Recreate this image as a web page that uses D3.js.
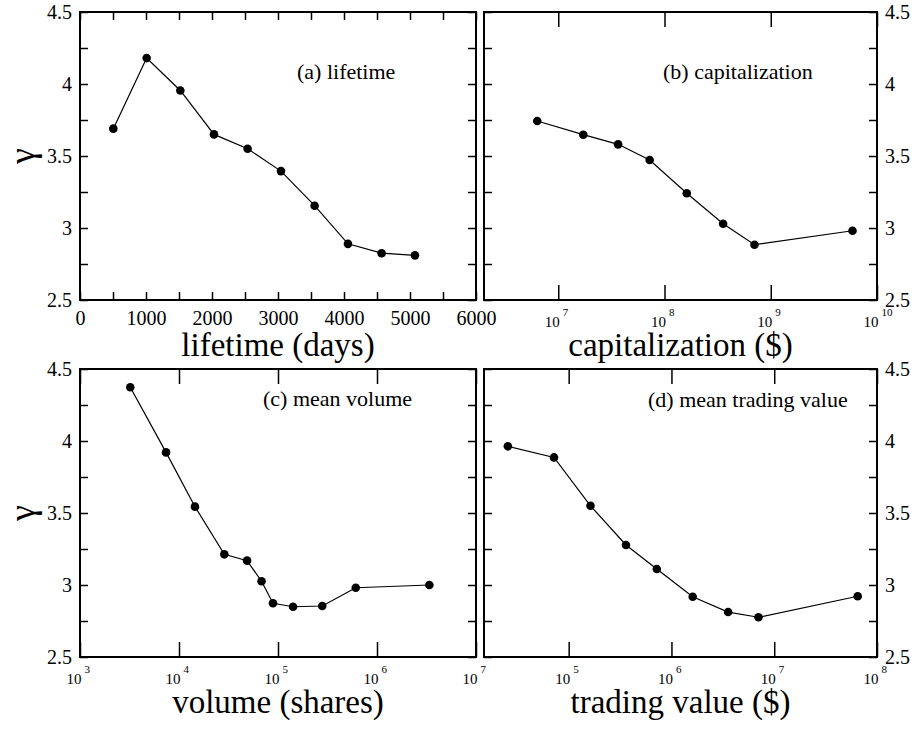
<!DOCTYPE html>
<html>
<head>
<meta charset="utf-8">
<script src="https://cdn.jsdelivr.net/npm/d3@7"></script>
<style>
  html, body { margin: 0; padding: 0; background: #fff; }
  svg { display: block; }
  text { font-family: "Liberation Serif", "Times New Roman", "DejaVu Serif", serif; fill: #000; }
</style>
</head>
<body>
<script>
// ---------- data ----------
const yTickValues = [2.5, 3, 3.5, 4, 4.5];
const yMinorValues = [2.75, 3.25, 3.75, 4.25];

const lifetimeTicks = [0, 1000, 2000, 3000, 4000, 5000, 6000];
const lifetimeMinor = [500, 1500, 2500, 3500, 4500, 5500];
const lifetimeDays = [505, 1010, 1520, 2030, 2540, 3045, 3555, 4060, 4570, 5075];
const lifetimeGamma = [3.69, 4.18, 3.955, 3.65, 3.55, 3.395, 3.155, 2.89, 2.825, 2.81];

const capExponents = [7, 8, 9, 10];
const capValues = [6.34e6, 1.72e7, 3.66e7, 7.25e7, 1.62e8, 3.56e8, 7.03e8, 5.88e9];
const capGamma = [3.743, 3.648, 3.581, 3.472, 3.241, 3.03, 2.884, 2.981];

const volExponents = [3, 4, 5, 6, 7];
const volValues = [3.22e3, 7.4e3, 1.45e4, 2.87e4, 4.87e4, 6.82e4, 8.9e4, 1.42e5, 2.8e5, 6.1e5, 3.38e6];
const volGamma = [4.373, 3.921, 3.544, 3.213, 3.169, 3.026, 2.873, 2.849, 2.854, 2.981, 3.0];

const tvExponents = [5, 6, 7, 8];
const tvValues = [2.56e4, 7.2e4, 1.63e5, 3.61e5, 7.2e5, 1.61e6, 3.56e6, 7.03e6, 6.49e7];
const tvGamma = [3.963, 3.886, 3.55, 3.278, 3.111, 2.918, 2.812, 2.776, 2.922];

const panelLabels = ["(a) lifetime", "(b) capitalization", "(c) mean volume", "(d) mean trading value"];
const axisTitles = ["lifetime (days)", "capitalization ($)", "volume (shares)", "trading value ($)"];
const yTitle = "γ";

// ---------- layout ----------
const W = 918, H = 734;
const FONT = "Liberation Serif, Times New Roman, DejaVu Serif, serif";
const svg = d3.select("body").append("svg").attr("width", W).attr("height", H);

const panels = [
  { x0: 80,  x1: 476, y0: 12,  y1: 300, type: "lin", domain: [0, 6000], xs: lifetimeDays, ys: lifetimeGamma, side: "left",
    label: panelLabels[0], title: axisTitles[0], lx: 217, ly: 67 },
  { x0: 484, x1: 877, y0: 12,  y1: 300, type: "log", domain: [2e6, 1e10], exps: capExponents, xs: capValues, ys: capGamma, side: "right",
    label: panelLabels[1], title: axisTitles[1], lx: 179, ly: 67 },
  { x0: 80,  x1: 476, y0: 369, y1: 657, type: "log", domain: [1e3, 1e7], exps: volExponents, xs: volValues, ys: volGamma, side: "left",
    label: panelLabels[2], title: axisTitles[2], lx: 183, ly: 37 },
  { x0: 484, x1: 877, y0: 369, y1: 657, type: "log", domain: [1.5e4, 1e8], exps: tvExponents, xs: tvValues, ys: tvGamma, side: "right",
    label: panelLabels[3], title: axisTitles[3], lx: 164, ly: 38 }
];

panels.forEach(p => {
  const w = p.x1 - p.x0, h = p.y1 - p.y0;
  const g = svg.append("g").attr("transform", `translate(${p.x0},${p.y0})`);
  const x = (p.type === "lin" ? d3.scaleLinear() : d3.scaleLog()).domain(p.domain).range([0, w]);
  const y = d3.scaleLinear().domain([2.5, 4.5]).range([h, 0]);

  // ---- y ticks (inward, both sides) ----
  const yAll = yTickValues.concat(yMinorValues);
  const fmtY = v => (yTickValues.includes(v) ? String(v) : "");
  const yl = g.append("g").call(d3.axisLeft(y).tickValues(yAll).tickSizeInner(-8).tickSizeOuter(0).tickPadding(8)
      .tickFormat(p.side === "left" ? fmtY : () => ""));
  const yr = g.append("g").attr("transform", `translate(${w},0)`)
    .call(d3.axisRight(y).tickValues(yAll).tickSizeInner(-8).tickSizeOuter(0).tickPadding(8)
      .tickFormat(p.side === "right" ? fmtY : () => ""));
  [yl, yr].forEach(a => {
    a.attr("font-family", FONT);
    a.select(".domain").remove();
    a.selectAll("line").attr("stroke", "#000").attr("stroke-width", 1.5);
    a.selectAll("text").attr("font-size", 20).attr("dy", "0.34em");
  });

  // ---- x ticks ----
  let xb, xt;
  if (p.type === "lin") {
    const all = lifetimeTicks.concat(lifetimeMinor);
    xb = g.append("g").attr("transform", `translate(0,${h})`)
      .call(d3.axisBottom(x).tickValues(all).tickSizeInner(-8).tickSizeOuter(0).tickPadding(11)
        .tickFormat(v => lifetimeTicks.includes(v) ? String(v) : ""));
    xt = g.append("g").call(d3.axisTop(x).tickValues(all).tickSizeInner(-8).tickSizeOuter(0).tickFormat(() => ""));
    xb.selectAll("text").attr("font-size", 20);
  } else {
    const vals = p.exps.map(e => Math.pow(10, e));
    xb = g.append("g").attr("transform", `translate(0,${h})`)
      .call(d3.axisBottom(x).tickValues(vals).tickSizeInner(-15).tickSizeOuter(0).tickPadding(16).tickFormat(() => ""));
    xt = g.append("g").call(d3.axisTop(x).tickValues(vals).tickSizeInner(-15).tickSizeOuter(0).tickFormat(() => ""));
    xb.selectAll("g.tick").each(function(d) {
      const tk = d3.select(this);
      tk.select("text").remove();
      tk.append("text").attr("x", 1).attr("y", 27).attr("text-anchor", "end")
        .attr("font-size", 15).attr("fill", "#000").text("10");
      tk.append("text").attr("x", 4).attr("y", 16).attr("text-anchor", "start")
        .attr("font-size", 11).attr("fill", "#000").text(String(Math.round(Math.log10(d))));
    });
  }
  [xb, xt].forEach(a => {
    a.attr("font-family", FONT);
    a.select(".domain").remove();
    a.selectAll("line").attr("stroke", "#000").attr("stroke-width", 1.5);
  });

  // ---- frame ----
  g.append("rect").attr("x", 0).attr("y", 0).attr("width", w).attr("height", h)
    .attr("fill", "none").attr("stroke", "#000").attr("stroke-width", 2);

  // ---- data ----
  const pts = p.xs.map((v, i) => [v, p.ys[i]]);
  g.append("path").datum(pts)
    .attr("fill", "none").attr("stroke", "#000").attr("stroke-width", 1.2)
    .attr("d", d3.line().x(d => x(d[0])).y(d => y(d[1])));
  g.selectAll("circle.pt").data(pts).enter().append("circle")
    .attr("class", "pt").attr("cx", d => x(d[0])).attr("cy", d => y(d[1])).attr("r", 4.3).attr("fill", "#000");

  // ---- panel label ----
  g.append("text").attr("x", p.lx).attr("y", p.ly).attr("font-size", 22).text(p.label);

  // ---- x title ----
  g.append("text").attr("x", w / 2).attr("y", h + 56).attr("text-anchor", "middle")
    .attr("font-size", 33).text(p.title);

  // ---- y title ----
  if (p.side === "left") {
    g.append("text").attr("transform", `translate(${-57},${h / 2}) rotate(-90)`)
      .attr("text-anchor", "middle").attr("font-size", 36).attr("dy", "0.3em").text(yTitle);
  }
});
</script>
</body>
</html>
